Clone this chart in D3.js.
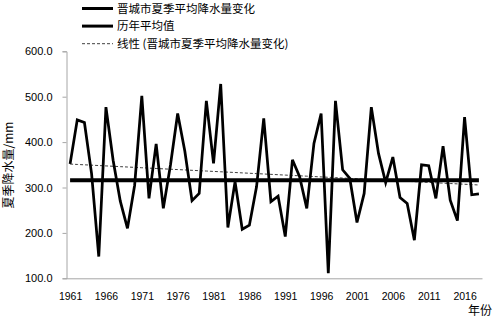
<!DOCTYPE html>
<html>
<head>
<meta charset="utf-8">
<script src="https://cdn.jsdelivr.net/npm/d3@7"></script>
<style>
  body { margin: 0; background: #fff; }
  svg { display: block; }
</style>
</head>
<body>
<div id="chart"></div>
<script>
// 年份 1961-2018
var years = d3.range(1961, 2019)
// 晋城市夏季平均降水量 (mm)
var rainfall = [
  352, 449, 443, 330, 148, 477, 360, 270, 210, 305,
  502, 276, 396, 254, 350, 463, 380, 271, 287, 491,
  353, 528, 212, 313, 208, 217, 302, 452, 269, 281,
  192, 361, 324, 254, 397, 463, 111, 491, 339, 320,
  223, 287, 477, 375, 311, 367, 278, 265, 184, 350,
  348, 276, 391, 272, 227, 455, 284, 286
]
// 历年平均值
var average = 316
var yTicks = [100, 200, 300, 400, 500, 600]
var xTickYears = d3.range(1961, 2019, 5)
var legendNames = ['晋城市夏季平均降水量变化', '历年平均值', '线性 (晋城市夏季平均降水量变化)']

var width = 493
var height = 317
var margin = { top: 51.3, right: 10.5, bottom: 38.7, left: 66.5 }

var svg = d3.select('#chart').append('svg')
  .attr('width', width)
  .attr('height', height)

var x = d3.scalePoint()
  .domain(years)
  .range([margin.left, width - margin.right])
  .padding(0.5)

var y = d3.scaleLinear()
  .domain([100, 600])
  .range([height - margin.bottom, margin.top])

var numFont = '"Liberation Sans", Arial, sans-serif'
var cjkFont = '"Noto Sans CJK SC", sans-serif'

// y 轴
var yAxis = svg.append('g')
  .attr('transform', 'translate(' + margin.left + ',0)')
  .call(d3.axisLeft(y).tickValues(yTicks).tickSize(4).tickPadding(10).tickFormat(d3.format('.1f')))
yAxis.select('.domain').attr('stroke', '#a6a6a6')
yAxis.selectAll('.tick line').attr('stroke', '#a6a6a6')
yAxis.selectAll('text').attr('font-size', 11).attr('font-family', numFont).attr('fill', '#000')

// x 轴
var xAxis = svg.append('g')
  .attr('transform', 'translate(0,' + (height - margin.bottom) + ')')
  .call(d3.axisBottom(x).tickValues(xTickYears).tickSize(0).tickPadding(14).tickSizeOuter(0))
xAxis.select('.domain')
  .attr('stroke', '#a6a6a6')
  .attr('d', 'M' + margin.left + ',0.5H' + (width - margin.right))
xAxis.selectAll('text').attr('font-size', 10.5).attr('font-family', numFont).attr('fill', '#000')

// 轴标题
svg.append('text')
  .attr('transform', 'translate(13,' + 165 + ') rotate(-90)')
  .attr('text-anchor', 'middle')
  .attr('font-size', 12)
  .attr('font-family', cjkFont)
  .text('夏季降水量/mm')

svg.append('text')
  .attr('x', 492)
  .attr('y', 315)
  .attr('text-anchor', 'end')
  .attr('font-size', 12)
  .attr('font-family', cjkFont)
  .text('年份')

// 线性趋势 (最小二乘)
var xm = d3.mean(years)
var ym = d3.mean(rainfall)
var slope = d3.sum(years, function(d, i) { return (d - xm) * (rainfall[i] - ym) }) /
  d3.sum(years, function(d) { return (d - xm) * (d - xm) })
var trend = years.map(function(d) { return ym + slope * (d - xm) })

var line = d3.line()
  .x(function(d, i) { return x(years[i]) })
  .y(function(d) { return y(d) })

svg.append('path')
  .datum(trend)
  .attr('d', line)
  .attr('fill', 'none')
  .attr('stroke', '#404040')
  .attr('stroke-width', 1)
  .attr('stroke-dasharray', '3,2')

// 历年平均值
svg.append('path')
  .datum(years.map(function() { return average }))
  .attr('d', line)
  .attr('fill', 'none')
  .attr('stroke', '#000')
  .attr('stroke-width', 4)

// 降水量变化
svg.append('path')
  .datum(rainfall)
  .attr('d', line)
  .attr('fill', 'none')
  .attr('stroke', '#000')
  .attr('stroke-width', 2.75)
  .attr('stroke-linejoin', 'miter')

// 图例
var legendStyles = [
  { w: 3, dash: null, c: '#000' },
  { w: 3, dash: null, c: '#000' },
  { w: 1, dash: '3,2', c: '#404040' }
]
var legend = svg.append('g')
  .selectAll('g')
  .data(legendNames)
  .enter()
  .append('g')
  .attr('transform', function(d, i) { return 'translate(0,' + (8.5 + i * 17.6) + ')' })

legend.append('line')
  .attr('x1', 82)
  .attr('x2', 113)
  .attr('stroke', function(d, i) { return legendStyles[i].c })
  .attr('stroke-width', function(d, i) { return legendStyles[i].w })
  .attr('stroke-dasharray', function(d, i) { return legendStyles[i].dash })

legend.append('text')
  .attr('x', 117)
  .attr('dy', '0.35em')
  .attr('font-size', 11.5)
  .attr('font-family', cjkFont)
  .text(function(d) { return d })
</script>
</body>
</html>
